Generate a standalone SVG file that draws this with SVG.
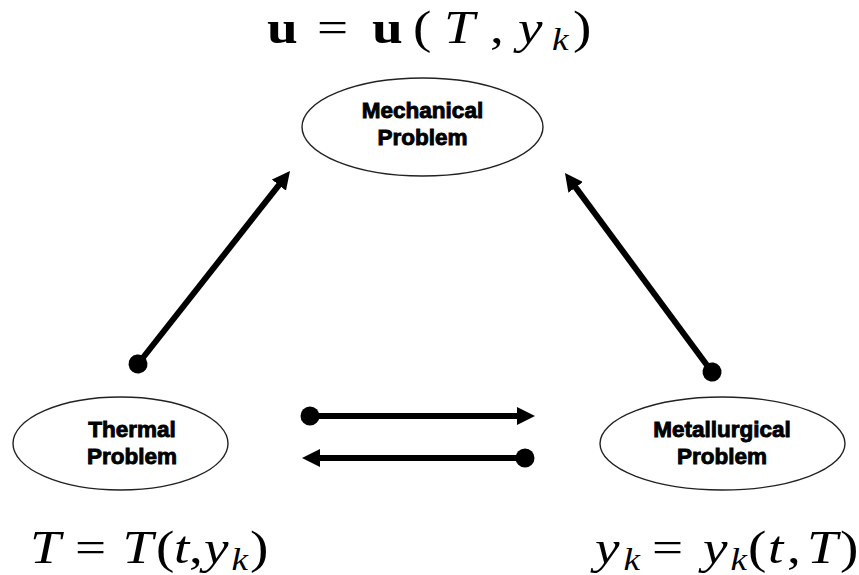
<svg xmlns="http://www.w3.org/2000/svg" width="859" height="575" viewBox="0 0 859 575">
<style>
.node ellipse{fill:#fff;stroke:#222;stroke-width:1.4}
.lbl{font-family:"Liberation Sans",Arial,sans-serif;font-weight:bold;font-size:22.5px;fill:#000;stroke:#000;stroke-width:0.9;text-anchor:middle}
.edge{stroke:#000;stroke-width:6;fill:none;marker-start:url(#dot);marker-end:url(#head)}
.math{font-family:"Liberation Serif","Times New Roman",serif;font-size:46px;fill:#000}
.it{font-style:italic}
.bf{font-weight:bold}
.sub{font-style:italic;font-size:31px}
</style>
<defs>
<marker id="head" markerUnits="userSpaceOnUse" markerWidth="18" markerHeight="18" viewBox="0 0 18 18" refX="6" refY="9" orient="auto">
<path d="M0,0 L18,9 L0,18 z" fill="#000"/>
</marker>
<marker id="dot" markerUnits="userSpaceOnUse" markerWidth="20" markerHeight="20" viewBox="0 0 20 20" refX="10" refY="10" orient="auto">
<circle cx="10" cy="10" r="9.5" fill="#000"/>
</marker>
</defs>

<g id="mechanical" class="node">
<ellipse cx="422.5" cy="127" rx="120.5" ry="49"/>
<text class="lbl" x="422.5" y="118">Mechanical</text>
<text class="lbl" x="422.5" y="145">Problem</text>
</g>
<g id="thermal" class="node">
<ellipse cx="120.5" cy="443.5" rx="107.5" ry="46.5"/>
<text class="lbl" x="132" y="437">Thermal</text>
<text class="lbl" x="132" y="464">Problem</text>
</g>
<g id="metallurgical" class="node">
<ellipse cx="722.5" cy="443.5" rx="122.5" ry="46.5"/>
<text class="lbl" x="722" y="437">Metallurgical</text>
<text class="lbl" x="722" y="464">Problem</text>
</g>

<g id="connectors">
<line class="edge" x1="138" y1="364" x2="282.6" y2="180.4"/>
<line class="edge" x1="712" y1="372" x2="572.1" y2="182.6"/>
<line class="edge" x1="310" y1="416" x2="523" y2="416"/>
<line class="edge" x1="525" y1="458" x2="314" y2="458"/>
</g>

<g id="formula-top">
<text class="math" transform="scale(1.2,1)" y="43"><tspan class="bf" x="222.5">u</tspan><tspan x="264.2">=</tspan><tspan class="bf" x="310">u</tspan><tspan x="344.2">(</tspan><tspan class="it" x="370">T</tspan><tspan x="408.3">,</tspan><tspan class="it" x="431.7">y</tspan><tspan class="sub" x="460" y="50">k</tspan><tspan x="477.5" y="43">)</tspan></text>
</g>
<g id="formula-thermal">
<text class="math" transform="scale(1.2,1)" y="563"><tspan class="it" x="25">T</tspan><tspan x="62.5">=</tspan><tspan class="it" x="102">T</tspan><tspan x="130">(</tspan><tspan class="it" x="145">t</tspan><tspan x="157.5">,</tspan><tspan class="it" x="170">y</tspan><tspan class="sub" x="193" y="570">k</tspan><tspan x="208.3" y="563">)</tspan></text>
</g>
<g id="formula-metallurgical">
<text class="math" transform="scale(1.2,1)" y="563"><tspan class="it" x="495.8">y</tspan><tspan class="sub" x="519.5" y="570">k</tspan><tspan x="543.3" y="563">=</tspan><tspan class="it" x="585.8">y</tspan><tspan class="sub" x="608.8" y="570">k</tspan><tspan x="623.3" y="563">(</tspan><tspan class="it" x="640">t</tspan><tspan x="655.8">,</tspan><tspan class="it" x="672.5">T</tspan><tspan x="700" y="563">)</tspan></text>
</g>
</svg>
